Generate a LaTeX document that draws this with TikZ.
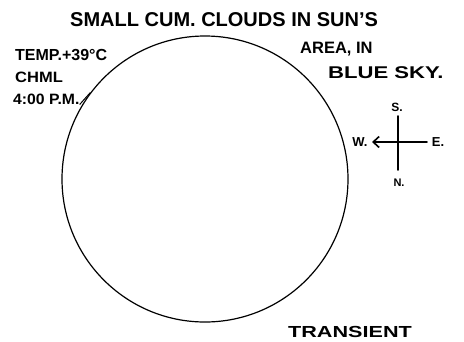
\documentclass[tikz,border=0pt]{standalone}
\usepackage{fontspec}
\setmainfont{Liberation Sans}
\usetikzlibrary{arrows.meta}

\tikzset{
  hand/.style={font=\bfseries\fontsize{#1}{#1}\selectfont,inner sep=0pt},
  hand/.default=15pt,
  ink/.style={line width=1.6pt,line cap=round}
}
\newcommand{\wide}[2]{\scalebox{#1}[1]{#2}}

\begin{document}
\begin{tikzpicture}[x=1pt,y=-1pt]
\useasboundingbox (0,0) rectangle (464,341);
% sun disc
\node[draw,circle,line width=1.2pt,minimum size=286pt,inner sep=0pt] (sun) at (205,179) {};
% notes
\node[hand=20pt,anchor=west] (title) at (70,20) {SMALL CUM. CLOUDS IN SUN'S};
\node[hand=16pt,anchor=west] (temp) at (15,55) {TEMP.+39°C};
\node[hand=15pt,anchor=west] (site) at (15,77) {\wide{1.1}{CHML}};
\node[hand=15pt,anchor=west] (time) at (13,99) {\wide{1.05}{4:00 P.M.}};
\node[hand=16.5pt,anchor=west] (area) at (300,49) {AREA, IN};
\node[hand=17pt,anchor=west] (sky) at (328,73) {\wide{1.3}{BLUE SKY.}};
\node[hand=16pt,anchor=west] (trans) at (288,332) {\wide{1.35}{TRANSIENT}};
\draw[line width=1pt] (time.south east) -- (sun.143);
% compass
\coordinate (cS) at (398,116);
\coordinate (cN) at (398,170);
\coordinate (cE) at (427,142);
\coordinate (cW) at (372,142);
\draw[ink] (cS) -- (cN);
\draw[ink,-{Straight Barb[length=6pt,width=11pt]}] (cE) -- (cW);
\node[hand=12pt] (s) at (397,107) {S.};
\node[hand=11pt] (n) at (399,183) {N.};
\node[hand=13pt] (w) at (360,142) {W.};
\node[hand=13pt] (e) at (438,142) {E.};
\end{tikzpicture}
\end{document}
